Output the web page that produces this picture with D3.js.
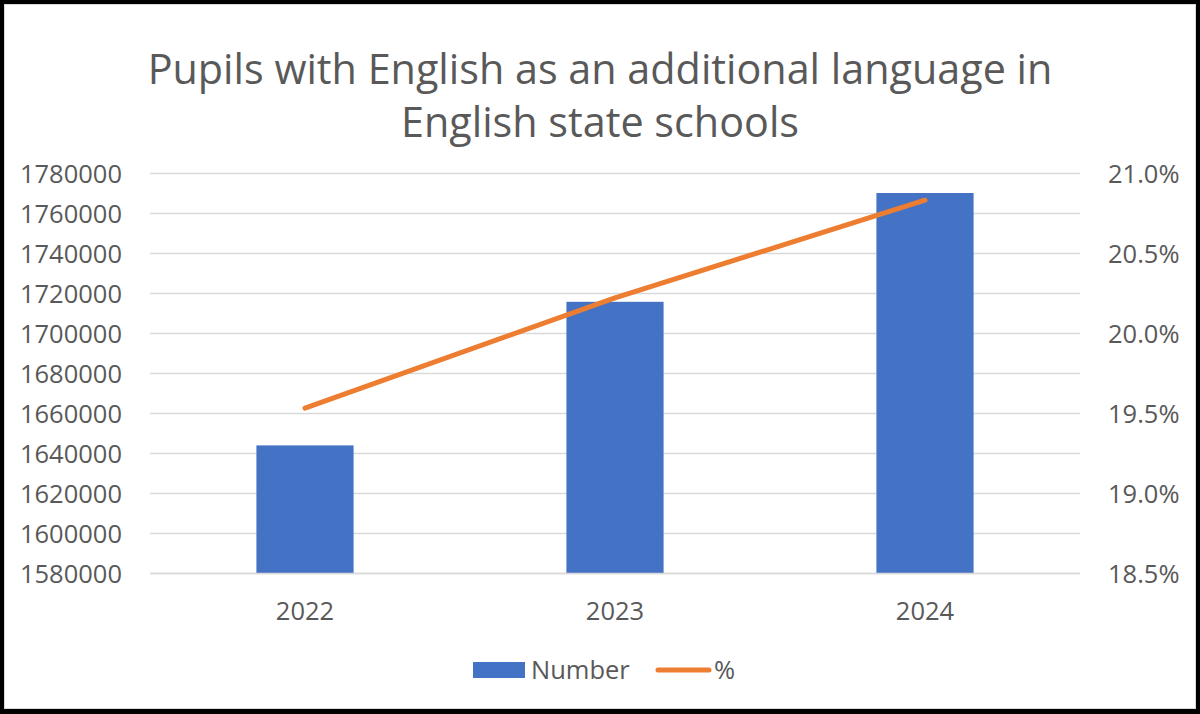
<!DOCTYPE html>
<html>
<head>
<meta charset="utf-8">
<script src="https://cdn.jsdelivr.net/npm/d3@7"></script>
<style>
  html, body { margin: 0; padding: 0; background: #000; }
  svg { display: block; }
  text { font-family: "Open Sans", sans-serif; fill: #595959; }
</style>
</head>
<body>
<div id="chart"></div>
<script>
// data
var years = ['2022', '2023', '2024'];
var numbers = [1643800, 1715600, 1770000];
var percents = [19.53, 20.22, 20.83];
var leftTicks = [1580000, 1600000, 1620000, 1640000, 1660000, 1680000, 1700000, 1720000, 1740000, 1760000, 1780000];
var rightTicks = [18.5, 19.0, 19.5, 20.0, 20.5, 21.0];
var titleLines = ['Pupils with English as an additional language in', 'English state schools'];
var legendNames = ['Number', '%'];

var W = 1200, H = 714,
    margin = {left: 150, right: 120, top: 173, bottom: 141},
    width = W - margin.left - margin.right,
    height = H - margin.top - margin.bottom,
    barColor = '#4472C4',
    lineColor = '#ED7D31',
    gridColor = '#D9D9D9',
    fontSize = 25.5;

var svg = d3.select('#chart').append('svg')
    .attr('width', W)
    .attr('height', H);

// black frame + white chart area
svg.append('rect').attr('width', W).attr('height', H).attr('fill', '#000');
svg.append('rect')
    .attr('x', 4.5).attr('y', 4.5)
    .attr('width', 1191).attr('height', 704)
    .attr('fill', '#fff')
    .attr('stroke', gridColor);

// scales
var x = d3.scaleBand().domain(years).range([0, width]).padding(0);
var barW = x.bandwidth() / 3.19;   // excel gap width 219%
var yL = d3.scaleLinear().domain([1580000, 1780000]).range([height, 0]);
var yR = d3.scaleLinear().domain([18.5, 21.0]).range([height, 0]);

var chart = svg.append('g')
    .attr('transform', 'translate(' + margin.left + ',' + margin.top + ')');

// grid
chart.append('g').selectAll('line')
    .data(leftTicks)
    .enter().append('line')
    .attr('x1', 0).attr('x2', width)
    .attr('y1', function (d) { return Math.round(yL(d)) + 0.5; })
    .attr('y2', function (d) { return Math.round(yL(d)) + 0.5; })
    .attr('stroke', gridColor)
    .attr('stroke-width', 1.3);

// left axis
var leftAxis = chart.append('g')
    .attr('transform', 'translate(-28,0)')
    .call(d3.axisLeft(yL).tickValues(leftTicks).tickSize(0).tickFormat(d3.format('d')));
leftAxis.select('.domain').remove();
leftAxis.selectAll('text')
    .attr('x', 0).attr('dy', '0.36em')
    .style('font-size', fontSize + 'px')
    .style('font-family', '"Open Sans", sans-serif')
    .attr('fill', '#595959');

// right axis
var rightAxis = chart.append('g')
    .attr('transform', 'translate(' + (width + 28) + ',0)')
    .call(d3.axisRight(yR).tickValues(rightTicks).tickSize(0).tickFormat(function (d) { return d.toFixed(1) + '%'; }));
rightAxis.select('.domain').remove();
rightAxis.selectAll('text')
    .attr('x', 0).attr('dy', '0.36em')
    .style('font-size', fontSize + 'px')
    .style('font-family', '"Open Sans", sans-serif')
    .attr('fill', '#595959');

// bars
chart.selectAll('.bar')
    .data(years)
    .enter().append('rect')
    .attr('class', 'bar')
    .attr('x', function (d) { return x(d) + (x.bandwidth() - barW) / 2; })
    .attr('y', function (d, i) { return yL(numbers[i]); })
    .attr('width', barW)
    .attr('height', function (d, i) { return height - yL(numbers[i]); })
    .attr('fill', barColor);

// bottom axis line
chart.append('line')
    .attr('x1', 0).attr('x2', width)
    .attr('y1', height + 0.5).attr('y2', height + 0.5)
    .attr('stroke', gridColor).attr('stroke-width', 1.3);

// x labels
var bottomAxis = chart.append('g')
    .attr('transform', 'translate(0,' + height + ')')
    .call(d3.axisBottom(x).tickSize(0));
bottomAxis.select('.domain').remove();
bottomAxis.selectAll('text')
    .attr('y', 47).attr('dy', 0)
    .style('font-size', fontSize + 'px')
    .style('font-family', '"Open Sans", sans-serif')
    .attr('fill', '#595959');

// percent line
var line = d3.line()
    .x(function (d, i) { return x(years[i]) + x.bandwidth() / 2; })
    .y(function (d) { return yR(d); });
chart.append('path')
    .attr('d', line(percents))
    .attr('fill', 'none')
    .attr('stroke', lineColor)
    .attr('stroke-width', 5)
    .attr('stroke-linecap', 'round')
    .attr('stroke-linejoin', 'round');

// title
var title = svg.append('g');
var t1 = title.append('text')
    .attr('x', 600).attr('y', 84)
    .attr('text-anchor', 'middle')
    .style('font-size', '40px')
    .text(titleLines[0]);
var tsize = 40 * 905 / t1.node().getComputedTextLength();
t1.style('font-size', tsize + 'px');
title.append('text')
    .attr('x', 600).attr('y', 137)
    .attr('text-anchor', 'middle')
    .style('font-size', tsize + 'px')
    .text(titleLines[1]);

// legend
var legend = svg.append('g');
legend.append('rect')
    .attr('x', 473).attr('y', 662)
    .attr('width', 52).attr('height', 16)
    .attr('fill', barColor);
legend.append('text')
    .attr('x', 531).attr('y', 679)
    .style('font-size', fontSize + 'px')
    .text(legendNames[0]);
legend.append('line')
    .attr('x1', 658).attr('x2', 709)
    .attr('y1', 670).attr('y2', 670)
    .attr('stroke', lineColor)
    .attr('stroke-width', 5)
    .attr('stroke-linecap', 'round');
legend.append('text')
    .attr('x', 714).attr('y', 679)
    .style('font-size', fontSize + 'px')
    .text(legendNames[1]);
</script>
</body>
</html>
